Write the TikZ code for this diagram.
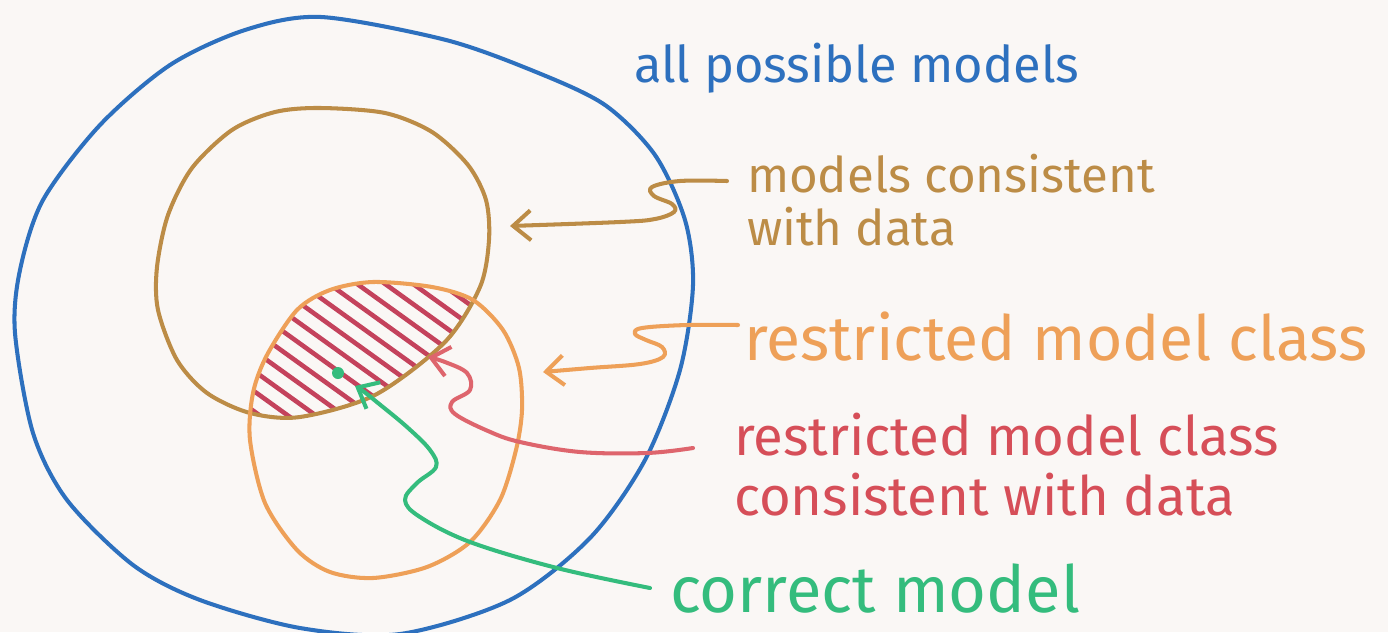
\documentclass[tikz,border=0pt]{standalone}
\usepackage{fontspec}
\setmainfont{Fira Sans}
\usetikzlibrary{arrows.meta}

\definecolor{penblue}{RGB}{45,112,190}
\definecolor{penbrown}{RGB}{188,140,70}
\definecolor{penorange}{RGB}{238,160,88}
\definecolor{penred}{RGB}{214,78,88}
\definecolor{hatchred}{RGB}{196,66,92}
\definecolor{pengreen}{RGB}{52,188,125}
\definecolor{paper}{RGB}{250,247,245}

\begin{document}
\begin{tikzpicture}[x=0.02cm, y=-0.02cm, line width=2.3pt, line cap=round, line join=round,
    >={Straight Barb[length=10pt, width=17pt]},
    label/.style={inner sep=0pt, align=left}]

    \fill[paper] (0,0) rectangle (1388,632);
    \useasboundingbox (0,0) rectangle (1388,632);

    % all possible models
    \draw[penblue] plot [smooth cycle, tension=0.5] coordinates { (321,17) (446,40) (536,72) (605,105) (655,155) (685,220) (693,285) (680,370) (645,460) (590,538) (510,600) (400,634) (300,628) (200,600) (133,565) (67,500) (33,433) (15,333) (20,270) (43,200) (100,125) (170,65) (245,30) };

    % hatched overlap
    \begin{scope}
        \clip plot [smooth cycle] coordinates { (320,108) (385,113) (432,132) (468,165) (486,200) (489,240) (480,287) (445,342) (375,395) (300,417) (250,413) (207,393) (177,360) (158,310) (157,267) (168,215) (192,168) (232,130) (275,112) };
        \clip plot [smooth cycle] coordinates { (373,282) (432,287) (473,300) (503,330) (519,368) (522,410) (516,450) (500,500) (470,542) (427,567) (373,578) (330,572) (297,550) (265,503) (250,440) (253,393) (267,355) (297,310) (330,290) };
        \foreach \x in {30, 58, ..., 460} {
            \draw[hatchred, line width=2.6pt] (\x, 250) -- ++ (250, 180);
        }
    \end{scope}

    % models consistent with data
    \draw[penbrown] plot [smooth cycle] coordinates { (320,108) (385,113) (432,132) (468,165) (486,200) (489,240) (480,287) (445,342) (375,395) (300,417) (250,413) (207,393) (177,360) (158,310) (157,267) (168,215) (192,168) (232,130) (275,112) };
    % restricted model class
    \draw[penorange] plot [smooth cycle] coordinates { (373,282) (432,287) (473,300) (503,330) (519,368) (522,410) (516,450) (500,500) (470,542) (427,567) (373,578) (330,572) (297,550) (265,503) (250,440) (253,393) (267,355) (297,310) (330,290) };

    \node[circle, fill=pengreen, inner sep=0pt, minimum size=0.24cm] (truemodel) at (338,373) {};

    % labels
    \node[label, penblue, anchor=base west, font=\fontsize{28.8}{30}\selectfont] (allmodels) at (632,82) {all possible models};
    \node[label, penbrown, anchor=north west, font=\fontsize{28}{30.5}\selectfont] (consistent) at (745,152) {models consistent\\with data};
    \node[label, penorange, anchor=base west, font=\fontsize{35.5}{37}\selectfont] (restricted) at (742,360) {restricted model class};
    \node[label, penred, anchor=north west, font=\fontsize{31}{34}\selectfont] (restrictedconsistent) at (732,411) {restricted model class\\consistent with data};
    \node[label, pengreen, anchor=base west, font=\fontsize{37}{39}\selectfont] (correct) at (668,612) {correct model};

    % arrow ends
    \coordinate (datatip) at (510,226);
    \coordinate (classtip) at (543,372);
    \coordinate (overlaptip) at (428,357);
    \coordinate (truetip) at (355,386);

    \draw[penbrown, ->] plot [smooth, tension=0.6] coordinates { ([shift={(-18,29)}]consistent.north west) (680,181) (652,187) (654,196) (672,204) (674,212) (655,219) (620,222) (datatip) };
    \draw[penorange, ->] plot [smooth, tension=0.6] coordinates { ([shift={(-4,-35)}]restricted.base west) (687,325) (642,328) (635,334) (646,340) (662,347) (663,357) (640,364) (590,368) (classtip) };
    \draw[penred!80!pink, ->] plot [smooth, tension=0.6] coordinates { ([shift={(-39,37)}]restrictedconsistent.north west) (647,453) (580,452) (520,442) (488,431) (455,414) (452,402) (470,390) (467,373) (445,362) (overlaptip) };
    \draw[pengreen, ->] plot [smooth, tension=0.6] coordinates { ([shift={(-18,-24)}]correct.base west) (557,568) (470,542) (420,517) (405,500) (417,483) (436,467) (430,450) (407,427) (378,403) (363,391) (truetip) };
\end{tikzpicture}
\end{document}
